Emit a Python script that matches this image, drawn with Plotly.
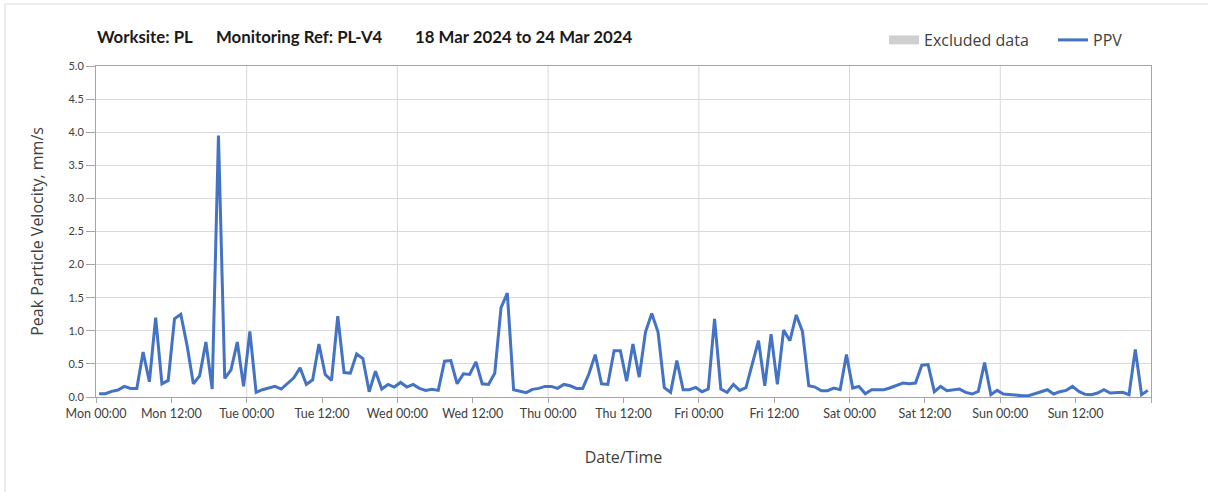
import pandas as pd
import plotly.graph_objects as go

# ---- data ----
start_time = "2024-03-18 00:30"
ppv = [
    0.05, 0.05, 0.085, 0.105, 0.16, 0.13, 0.13, 0.68, 0.23, 1.2, 0.2, 0.25,
    1.18, 1.25, 0.78, 0.2, 0.32, 0.83, 0.12, 3.95, 0.28, 0.41, 0.83, 0.16,
    0.99, 0.07, 0.11, 0.13, 0.16, 0.12, 0.21, 0.29, 0.44, 0.19, 0.26, 0.80,
    0.34, 0.25, 1.22, 0.37, 0.36, 0.65, 0.58, 0.08, 0.39, 0.12, 0.19, 0.15,
    0.22, 0.15, 0.19, 0.13, 0.10, 0.115, 0.10, 0.54, 0.55, 0.2, 0.35, 0.34,
    0.53, 0.2, 0.19, 0.36, 1.35, 1.57, 0.11, 0.085, 0.065, 0.115, 0.13, 0.16,
    0.16, 0.13, 0.19, 0.17, 0.13, 0.13, 0.35, 0.64, 0.2, 0.19, 0.70, 0.70,
    0.24, 0.80, 0.30, 0.98, 1.26, 0.98, 0.14, 0.07, 0.55, 0.11, 0.11, 0.145,
    0.08, 0.12, 1.18, 0.12, 0.07, 0.19, 0.10, 0.14, 0.5, 0.85, 0.17, 0.95,
    0.19, 1.01, 0.85, 1.24, 0.99, 0.17, 0.15, 0.095, 0.095, 0.135, 0.11, 0.64,
    0.135, 0.16, 0.05, 0.11, 0.11, 0.11, 0.14, 0.17, 0.21, 0.2, 0.21, 0.48,
    0.49, 0.08, 0.16, 0.095, 0.11, 0.12, 0.07, 0.045, 0.085, 0.52, 0.035, 0.10,
    0.045, 0.035, 0.02, 0.02, 0.02, 0.055, 0.08, 0.11, 0.045, 0.08, 0.10, 0.16,
    0.085, 0.04, 0.035, 0.06, 0.11, 0.06, 0.06, 0.07, 0.035, 0.72, 0.035, 0.10,
]
# no excluded periods in this week
excluded_x = [None]
excluded_y = [None]

tick_labels = [
    "Mon 00:00", "Mon 12:00", "Tue 00:00", "Tue 12:00", "Wed 00:00", "Wed 12:00",
    "Thu 00:00", "Thu 12:00", "Fri 00:00", "Fri 12:00", "Sat 00:00", "Sat 12:00",
    "Sun 00:00", "Sun 12:00", "",
]
axis_start = "2024-03-18 00:00"
axis_end = "2024-03-25 00:00"

title_parts = ["Worksite: PL", "Monitoring Ref: PL-V4", "18 Mar 2024 to 24 Mar 2024"]

times = pd.date_range(start_time, periods=len(ppv), freq="h")
tick_vals = pd.date_range(axis_start, periods=len(tick_labels), freq="12h")
day_lines = pd.date_range(axis_start, axis_end, freq="24h")[1:-1]

# ---- layout constants (pixels) ----
W, H = 1208, 492
L, R, T, B = 96, 57, 66, 95
pw, ph = W - L - R, H - T - B


def px_x(p):
    return (p - L) / pw


def px_y(p):
    return (H - B - p) / ph


AX = "#a6a6a6"
GRID = "#d9d9d9"
TXT = "#404040"

fig = go.Figure()
fig.add_trace(go.Scatter(x=excluded_x, y=excluded_y, name="Excluded data",
                         mode="lines", line=dict(width=9, color="#d0d0d0"),
                         legendwidth=124))
fig.add_trace(go.Scatter(x=times, y=ppv, mode="lines", name="PPV",
                         line=dict(color="#4472C4", width=3)))

shapes = []
for d in day_lines:
    shapes.append(dict(type="line", xref="x", yref="paper", x0=d, x1=d, y0=0, y1=1,
                       line=dict(color=GRID, width=1), layer="below"))
# outer frame
shapes.append(dict(type="rect", xref="paper", yref="paper",
                   x0=px_x(5), x1=px_x(1216), y0=px_y(4), y1=px_y(500),
                   line=dict(color="#d9d9d9", width=1), layer="below"))

title_x = [95, 214, 413]
annotations = []
for t, x in zip(title_parts, title_x):
    annotations.append(dict(text=t, xref="paper", yref="paper", x=px_x(x), y=px_y(36),
                            xanchor="left", yanchor="middle", showarrow=False,
                            font=dict(family="Lato", size=16.8, color="#1a1a1a", weight="bold")))

fig.update_layout(
    width=W, height=H,
    margin=dict(l=L, r=R, t=T, b=B, autoexpand=False),
    paper_bgcolor="white", plot_bgcolor="white",
    font=dict(family="Open Sans", color=TXT),
    showlegend=True,
    legend=dict(orientation="h", x=px_x(884), xanchor="left", y=px_y(40), yanchor="middle",
                font=dict(family="Open Sans", size=16, color=TXT), bgcolor="rgba(0,0,0,0)",
                traceorder="normal", itemwidth=30),
    shapes=shapes,
    annotations=annotations,
    xaxis=dict(
        type="date", range=[axis_start, axis_end],
        tickmode="array", tickvals=tick_vals, ticktext=tick_labels,
        ticks="outside", ticklen=5, tickcolor=AX,
        showline=True, linecolor=AX, linewidth=1, mirror=True,
        showgrid=False, zeroline=False,
        tickfont=dict(family="Lato", size=12.5, color=TXT),
        title=dict(text="Date/Time", font=dict(family="Open Sans", size=16, color=TXT), standoff=31),
    ),
    yaxis=dict(
        range=[0, 5], dtick=0.5, tickformat=".1f",
        ticks="outside", ticklen=9, tickcolor=AX,
        showline=True, linecolor=AX, linewidth=1, mirror=True,
        showgrid=True, gridcolor=GRID, gridwidth=1, zeroline=False,
        tickfont=dict(family="Lato", size=11, color=TXT),
        title=dict(text="Peak Particle Velocity, mm/s", font=dict(family="Open Sans", size=16, color=TXT),
                   standoff=20),
    ),
)

fig.write_html("out.html", config={"displayModeBar": False},
               post_script="document.body.style.margin='0px';")
